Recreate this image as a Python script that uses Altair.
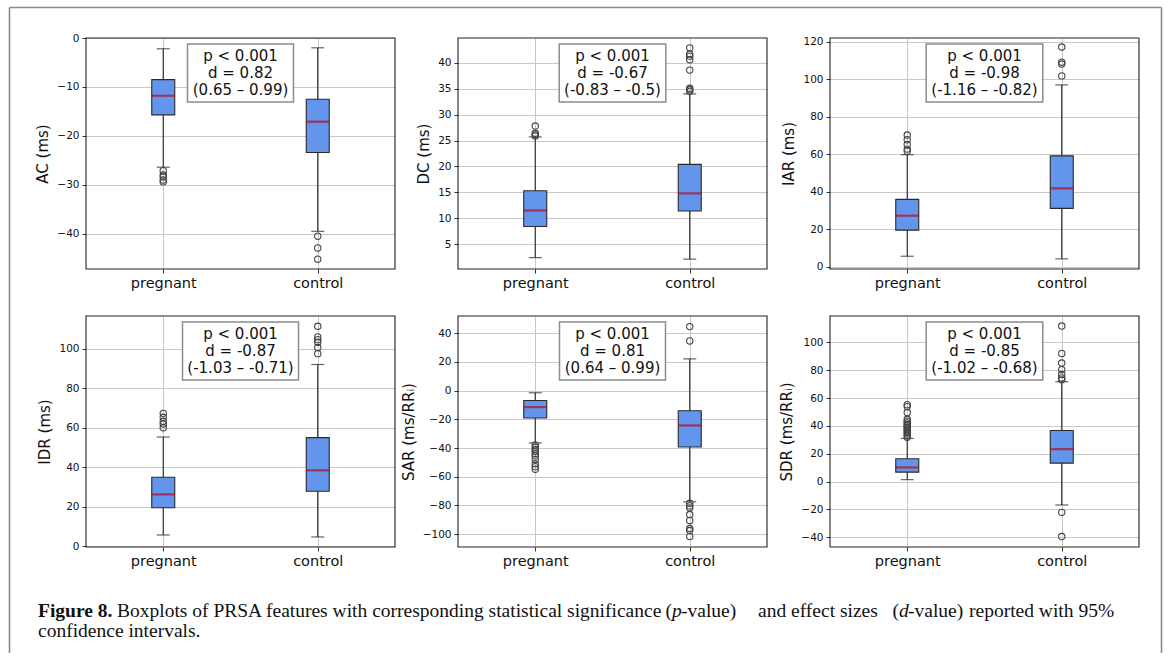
import altair as alt
import pandas as pd

groups = ["pregnant", "control"]

titles = ["AC (ms)", "DC (ms)", "IAR (ms)", "IDR (ms)", "SAR (ms/RRᵢ)", "SDR (ms/RRᵢ)"]

# summaries per group: whisker low, Q1, median, Q3, whisker high
ac_preg = [-26.4, -15.7, -11.8, -8.5, -2.2]
ac_ctrl = [-39.5, -23.4, -17.1, -12.5, -2.0]
dc_preg = [2.4, 8.4, 11.5, 15.3, 25.7]
dc_ctrl = [2.1, 11.4, 14.8, 20.4, 34.0]
iar_preg = [5.7, 19.6, 27.3, 36.0, 59.8]
iar_ctrl = [4.3, 31.2, 41.9, 59.2, 97.0]
idr_preg = [5.6, 19.4, 26.2, 34.9, 55.3]
idr_ctrl = [4.6, 27.8, 38.4, 55.0, 92.1]
sar_preg = [-36.5, -19.1, -11.5, -6.9, -1.5]
sar_ctrl = [-77.5, -39.3, -24.3, -14.0, 22.1]
sdr_preg = [1.4, 6.8, 10.2, 16.4, 31.0]
sdr_ctrl = [-16.8, 13.3, 23.3, 36.7, 71.8]

# outliers
ac_preg_out = [-27.1, -28.0, -28.4, -29.0, -29.4]
ac_ctrl_out = [-40.5, -42.9, -45.2]
dc_preg_out = [25.9, 26.1, 26.4, 27.8]
dc_ctrl_out = [34.5, 34.8, 35.1, 38.6, 40.6, 41.3, 41.7, 42.9]
iar_preg_out = [61.7, 62.8, 65.3, 67.8, 70.3]
iar_ctrl_out = [101.8, 108.1, 109.1, 117.2]
idr_preg_out = [60.0, 61.9, 63.3, 65.3, 67.3]
idr_ctrl_out = [97.6, 100.7, 103.4, 104.7, 106.1, 111.5]
sar_preg_out = [-37.8, -39.5, -41.0, -42.5, -44.0, -45.5, -48.0, -51.0, -53.0, -54.8]
sar_ctrl_out = [44.6, 34.6, -78.5, -80.4, -81.8, -86.4, -90.5, -96.1, -97.5, -101.6]
sdr_preg_out = [31.9, 33.0, 34.2, 35.3, 36.5, 37.2, 38.4, 39.1, 40.2, 41.0, 42.2,
                43.4, 44.8, 49.6, 53.9, 55.3]
sdr_ctrl_out = [73.1, 74.5, 76.9, 80.4, 85.2, 92.1, 111.8, -22.1, -39.5]

domains = [[-47.2, 0.0], [0.2, 44.8], [-1.1, 122.0], [-0.5, 116.7], [-109.0, 52.0], [-47.0, 119.0]]
tick_values = [
    [0, -10, -20, -30, -40],
    [5, 10, 15, 20, 25, 30, 35, 40],
    [0, 20, 40, 60, 80, 100, 120],
    [0, 20, 40, 60, 80, 100],
    [-100, -80, -60, -40, -20, 0, 20, 40],
    [-40, -20, 0, 20, 40, 60, 80, 100],
]

p_texts = ["p < 0.001"] * 6
d_texts = ["d = 0.82", "d = -0.67", "d = -0.98", "d = -0.87", "d = 0.81", "d = -0.85"]
ci_texts = ["(0.65 – 0.99)", "(-0.83 – -0.5)", "(-1.16 – -0.82)",
            "(-1.03 – -0.71)", "(0.64 – 0.99)", "(-1.02 – -0.68)"]

caption_bold = "Figure 8."
caption_parts = ["Boxplots of PRSA features with corresponding statistical significance",
                 "(", "p", "-value)", "and effect sizes", "(", "d", "-value)",
                 "reported with 95%"]
caption_line2 = "confidence intervals."

stats = [(ac_preg, ac_ctrl), (dc_preg, dc_ctrl), (iar_preg, iar_ctrl),
         (idr_preg, idr_ctrl), (sar_preg, sar_ctrl), (sdr_preg, sdr_ctrl)]
outs = [(ac_preg_out, ac_ctrl_out), (dc_preg_out, dc_ctrl_out), (iar_preg_out, iar_ctrl_out),
        (idr_preg_out, idr_ctrl_out), (sar_preg_out, sar_ctrl_out), (sdr_preg_out, sdr_ctrl_out)]

# styling
W, H = 309, 231
box_half = [53, 53.3, 58.3, 58, 53, 58.3]
BLUE = "#6495ED"
RED = "#b0101a"
SANS = "DejaVu Sans"
SERIF = "Liberation Serif"


def make_panel(i):
    s_p, s_c = stats[i]
    box = pd.DataFrame({
        "group": groups,
        "lo": [s_p[0], s_c[0]], "q1": [s_p[1], s_c[1]], "med": [s_p[2], s_c[2]],
        "q3": [s_p[3], s_c[3]], "hi": [s_p[4], s_c[4]],
    })
    o_p, o_c = outs[i]
    out = pd.DataFrame({"group": ["pregnant"] * len(o_p) + ["control"] * len(o_c),
                        "value": o_p + o_c})
    ann = pd.DataFrame({"txt": [p_texts[i] + "\n" + d_texts[i] + "\n" + ci_texts[i]]})

    xenc = alt.X("group:N", sort=groups, title=None,
                 scale=alt.Scale(type="point", padding=0.5),
                 axis=alt.Axis(labelAngle=0, grid=True, labelFontSize=14.5, labelFont=SANS,
                               labelColor="#111", tickSize=4, labelPadding=3, domain=False,
                               tickColor="#333"))
    yscale = alt.Scale(domain=domains[i], nice=False, zero=False)
    yax = alt.Axis(values=tick_values[i], grid=True, labelFontSize=10.5, labelFont=SANS,
                   labelColor="#111", tickSize=4, labelPadding=3, domain=False,
                   titleFontSize=15, titleFont=SANS, titleFontWeight="normal",
                   titleColor="#111", titlePadding=6, tickColor="#333")

    def Y(f):
        return alt.Y(f, scale=yscale, axis=yax, title=titles[i])

    base = alt.Chart(box).encode(x=xenc)
    whisk = base.mark_rule(color="#222", strokeWidth=1.1).encode(y=Y("lo:Q"), y2="hi:Q")
    cap_lo = base.mark_tick(size=13, thickness=1.2, color="#222").encode(y=Y("lo:Q"))
    cap_hi = base.mark_tick(size=13, thickness=1.2, color="#222").encode(y=Y("hi:Q"))
    boxm = base.mark_bar(size=23, fill=BLUE, stroke="#2a2a2a", strokeWidth=1.1).encode(
        y=Y("q1:Q"), y2="q3:Q")
    med = base.mark_tick(size=23, thickness=2.2, color=RED).encode(y=Y("med:Q"))
    pts = alt.Chart(out).mark_point(shape="circle", filled=False, size=40, color="#444",
                                    strokeWidth=1.1, opacity=1).encode(x=xenc, y=Y("value:Q"))
    one = pd.DataFrame({"k": [0]})
    frame = alt.Chart(one).mark_rect(fill=None, stroke="#222", strokeWidth=1.1).encode(
        x=alt.value(0), x2=alt.value(W), y=alt.value(0), y2=alt.value(H))
    cx = W / 2
    annbox = alt.Chart(ann).mark_rect(fill="white", stroke="#8c8c8c", strokeWidth=1.5).encode(
        x=alt.value(cx - box_half[i]), x2=alt.value(cx + box_half[i]),
        y=alt.value(6), y2=alt.value(64))
    anntext = alt.Chart(ann).mark_text(font=SANS, fontSize=15, lineHeight=17, align="center",
                                       baseline="middle", lineBreak="\n", color="#111").encode(
        x=alt.value(cx), y=alt.value(17.5), text="txt:N")
    layers = [whisk, cap_lo, cap_hi, boxm, med, pts, frame, annbox, anntext]

    if i == 0:
        fc = "#8a8a8a"
        left = alt.Chart(one).mark_rule(color=fc, strokeWidth=1.6).encode(
            x=alt.value(-76.5), y=alt.value(-30.5), y2=alt.value(615))
        top = alt.Chart(one).mark_rule(color=fc, strokeWidth=1.6).encode(
            x=alt.value(-76.5), x2=alt.value(1075.5), y=alt.value(-30.5))
        right = alt.Chart(one).mark_rule(color=fc, strokeWidth=1.6).encode(
            x=alt.value(1075.5), y=alt.value(-30.5), y2=alt.value(615))
        layers += [left, top, right]
    if i == 3:
        fs = 19.5
        y1, y2 = 301, 321
        xs = [31, 586, 586, 595, 672, 813, 813, 822, 883]
        aligns = ["left", "right", "left", "left", "left", "right", "left", "left", "left"]
        styles = ["normal", "normal", "italic", "normal", "normal", "normal", "italic",
                  "normal", "normal"]
        layers.append(alt.Chart(one).mark_text(font=SERIF, fontSize=fs, fontWeight="bold",
                                               align="left", baseline="alphabetic",
                                               color="#111").encode(
            x=alt.value(-48), y=alt.value(y1), text=alt.value(caption_bold)))
        for txt, xx, al, st in zip(caption_parts, xs, aligns, styles):
            layers.append(alt.Chart(one).mark_text(font=SERIF, fontSize=fs, fontStyle=st,
                                                   align=al, baseline="alphabetic",
                                                   color="#111").encode(
                x=alt.value(xx), y=alt.value(y1), text=alt.value(txt)))
        layers.append(alt.Chart(one).mark_text(font=SERIF, fontSize=fs, align="left",
                                               baseline="alphabetic", color="#111").encode(
            x=alt.value(-48), y=alt.value(y2), text=alt.value(caption_line2)))

    return alt.layer(*layers).properties(width=W, height=H)


chart = alt.concat(*[make_panel(i) for i in range(6)], columns=3,
                   spacing={"row": 47, "column": 63}, bounds="flush").properties(
    padding={"left": 8, "top": 6, "right": 0, "bottom": 0}, background="white"
).configure_view(stroke=None).configure_axis(
    gridColor="#c8c8c8", gridWidth=1, gridOpacity=1
)

chart.save("out.html", embed_options={"renderer": "svg", "actions": False})
